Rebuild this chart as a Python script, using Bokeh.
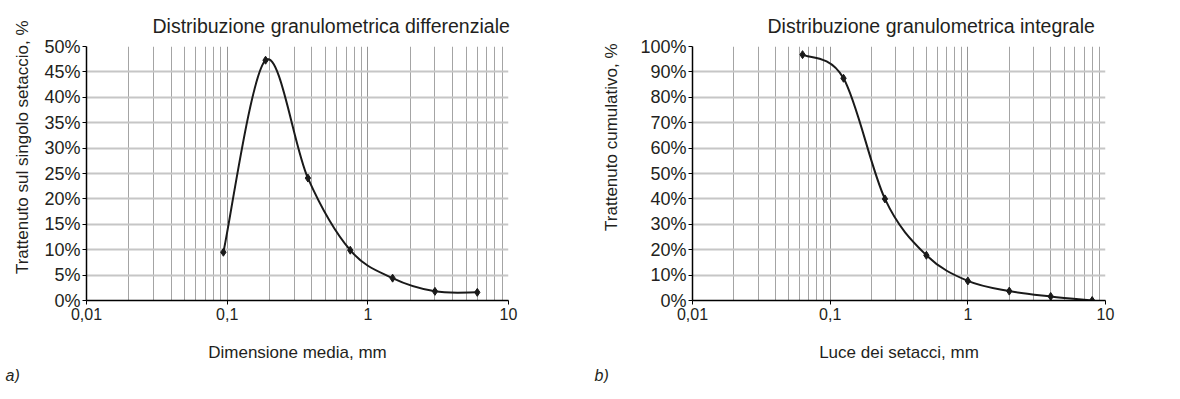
import numpy as np
from bokeh.plotting import figure
from bokeh.layouts import row
from bokeh.models import Range1d, FixedTicker, PrintfTickFormatter, Title, ColumnDataSource
from bokeh.embed import file_html
from bokeh.resources import INLINE

# ---------------- data ----------------
# a) differential distribution: mean size between adjacent sieves (mm) vs % retained
mean_size_mm = [0.094, 0.1875, 0.375, 0.75, 1.5, 3.0, 6.0]
retained_pct = [9.5, 47.3, 24.1, 9.9, 4.4, 1.8, 1.6]
# b) cumulative distribution: sieve opening (mm) vs cumulative % retained
sieve_opening_mm = [0.063, 0.125, 0.25, 0.5, 1.0, 2.0, 4.0, 8.0]
cumulative_pct = [96.8, 87.5, 40.0, 17.8, 7.7, 3.7, 1.6, 0.0]

x_tick_values = [0.01, 0.1, 1, 10]
x_tick_labels = ["0,01", "0,1", "1", "10"]

titles = ["Distribuzione granulometrica differenziale", "Distribuzione granulometrica integrale"]
x_titles = ["Dimensione media, mm", "Luce dei setacci, mm"]
y_titles = ["Trattenuto sul singolo setaccio, %", "Trattenuto cumulativo, %"]
panel_tags = ["a)", "b)"]

TXT = "#231f20"
FONT = "Liberation Sans"


def smooth_bezier(xs, ys):
    """Catmull-Rom style smoothing (like a spreadsheet 'smoothed line'), in log-x space."""
    P = np.column_stack([np.log10(np.asarray(xs, float)), np.asarray(ys, float)])
    n = len(P)
    out = {k: [] for k in ("x0", "y0", "x1", "y1", "cx0", "cy0", "cx1", "cy1")}
    for i in range(n - 1):
        p0 = P[max(i - 1, 0)]
        p1 = P[i]
        p2 = P[i + 1]
        p3 = P[min(i + 2, n - 1)]
        c1 = p1 + (p2 - p0) / 6.0
        c2 = p2 - (p3 - p1) / 6.0
        out["x0"].append(10 ** p1[0]); out["y0"].append(p1[1])
        out["x1"].append(10 ** p2[0]); out["y1"].append(p2[1])
        out["cx0"].append(10 ** c1[0]); out["cy0"].append(c1[1])
        out["cx1"].append(10 ** c2[0]); out["cy1"].append(c2[1])
    return ColumnDataSource(out)


def make_panel(k, xs, ys, y_max, y_step, width, b_left, b_right,
               ytitle_standoff, ytitle_offset, title_offset, tag_offset):
    p = figure(width=width, height=383, x_axis_type="log",
               x_range=Range1d(0.01, 10), y_range=Range1d(0, y_max),
               output_backend="svg", toolbar_location=None,
               min_border_left=b_left, min_border_right=b_right,
               min_border_top=46, min_border_bottom=83,
               background_fill_color="white", border_fill_color="white")
    p.outline_line_color = None

    p.title.text = titles[k]
    p.title.align = "left"
    p.title.offset = title_offset
    p.title.text_font = FONT
    p.title.text_font_size = "19.5px"
    p.title.text_font_style = "normal"
    p.title.text_color = TXT
    p.title.standoff = 20

    minor = [m * 10.0 ** e for e in (-2, -1, 0) for m in range(2, 10)]
    xt = FixedTicker(ticks=x_tick_values, minor_ticks=minor)
    p.xaxis.ticker = xt
    p.xgrid.ticker = xt
    p.xaxis.major_label_overrides = dict(zip(x_tick_values, x_tick_labels))
    yt = FixedTicker(ticks=list(range(0, y_max + 1, y_step)))
    p.yaxis.ticker = yt
    p.ygrid.ticker = yt
    p.yaxis.formatter = PrintfTickFormatter(format="%d%%")

    for ax in (p.xaxis, p.yaxis):
        ax.axis_line_color = "black"
        ax.axis_line_width = 1.5
        ax.major_tick_line_color = "black"
        ax.major_tick_line_width = 1
        ax.major_tick_in = 0
        ax.major_tick_out = 4
        ax.minor_tick_line_color = None
        ax.major_label_text_font = FONT
        ax.major_label_text_color = TXT
        ax.axis_label_text_font = FONT
        ax.axis_label_text_font_size = "17px"
        ax.axis_label_text_font_style = "normal"
        ax.axis_label_text_color = TXT
    p.xaxis.major_label_text_font_size = "16px"
    p.yaxis.major_label_text_font_size = "18px"
    p.xaxis.major_label_standoff = 3
    p.yaxis.major_label_standoff = 2
    p.xaxis.axis_label = x_titles[k]
    p.xaxis.axis_label_standoff = 20

    # vertical axis title as a side title (lets it sit off-centre like the original)
    ytitle = Title(text=y_titles[k], align="right", offset=ytitle_offset,
                   text_font=FONT, text_font_size="17px", text_font_style="normal",
                   text_color=TXT, standoff=ytitle_standoff)
    p.add_layout(ytitle, "left")

    p.xgrid.grid_line_color = "#969696"
    p.xgrid.grid_line_width = 1
    p.xgrid.minor_grid_line_color = "#a4a4a4"
    p.xgrid.minor_grid_line_width = 1
    p.ygrid.grid_line_color = "#c6c6c6"
    p.ygrid.grid_line_width = 2

    p.bezier(x0="x0", y0="y0", x1="x1", y1="y1", cx0="cx0", cy0="cy0", cx1="cx1", cy1="cy1",
             source=smooth_bezier(xs, ys), line_color="#1a1a1a", line_width=2)
    p.scatter(xs, ys, marker="diamond", size=8, color="#1a1a1a")

    tag = Title(text=panel_tags[k], align="left", text_font=FONT, text_font_size="16px",
                text_font_style="italic", text_color=TXT, offset=tag_offset, standoff=0)
    p.add_layout(tag, "below")
    return p


p1 = make_panel(0, mean_size_mm, retained_pct, 50, 5, 582, 82, 74, 20, -26, 66, -81)
p2 = make_panel(1, sieve_opening_mm, cumulative_pct, 100, 10, 582, 106, 59, 34, -3, 75, -98)

layout = row(p1, p2)
open("out.html", "w").write(file_html(layout, INLINE))
